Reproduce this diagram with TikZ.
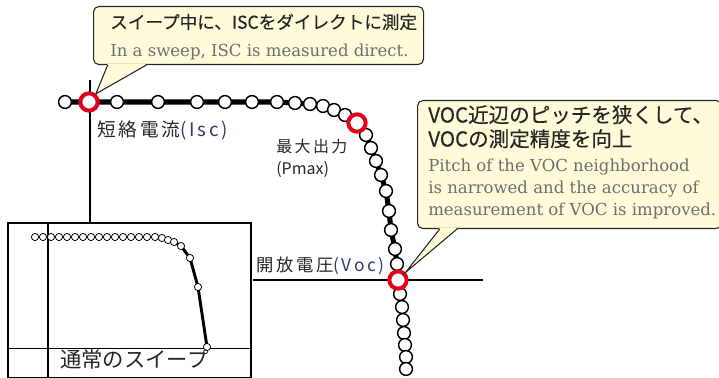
\documentclass[tikz,border=0pt]{standalone}
\usepackage{fontspec}
\setmainfont{DejaVu Serif}
\newfontfamily\jpfont{Noto Sans CJK JP}
\newfontfamily\jpnotefont[FakeBold=0.3]{Noto Sans CJK JP}
\newfontfamily\jplabelfont[LetterSpace=15]{Noto Sans CJK JP}
\usepackage{xcolor}
\usepackage{tikz}
\usetikzlibrary{positioning,calc}

\definecolor{notefill}{HTML}{FFFBDA}
\definecolor{keyred}{HTML}{E2001A}
\definecolor{labelblue}{HTML}{2B3C6C}
\definecolor{engray}{HTML}{6E6E6E}

\begin{document}
\begin{tikzpicture}[
    x=0.75pt, y=-0.75pt,
    axis/.style={line width=1.9pt},
    curve/.style={line width=3.8pt, line join=round},
    smallcurve/.style={line width=2.2pt, line join=round},
    dot/.style={circle, draw, fill=white, line width=1.1pt, minimum size=9.6pt, inner sep=0pt},
    keydot/.style={circle, draw=keyred, fill=white, line width=3pt, minimum size=13pt, inner sep=0pt},
    smalldot/.style={circle, draw, fill=white, line width=0.6pt, minimum size=5.4pt, inner sep=0pt},
    frame/.style={draw, line width=1.8pt, inner sep=0pt, anchor=north west},
    note/.style={draw=black!85, fill=notefill, rounded corners=4pt, line width=0.8pt, inner sep=0pt, anchor=north west},
    notejp/.style={font=\jpnotefont\fontsize{13.2}{15}\selectfont, text=black!85, inner sep=0pt, anchor=west},
    notejpbig/.style={font=\jpnotefont\fontsize{15.4}{18}\selectfont, text=black!85, inner sep=0pt, anchor=west, align=left},
    noteen/.style={font=\fontsize{12.4}{16.5}\selectfont, text=engray, inner sep=0pt, anchor=base west, align=left},
    label/.style={font=\jplabelfont\fontsize{13}{16.5}\selectfont, text=black!85, inner sep=0pt, anchor=west, align=left}
]
\useasboundingbox (0,0) rectangle (719,378);

% Axes
\node[frame, minimum width=182.25pt, minimum height=116.25pt] (inset) at (7,222) {};
\coordinate (ytop) at (90,80);
\coordinate (xleft) at (253,280);
\coordinate (xright) at (483,280);
\draw[axis] (ytop) -- (ytop |- inset.north);
\draw[axis] (xleft) -- (xright);

% Main sweep - points along the I-V curve
\foreach \px/\py [count=\i] in {65/102, 89/102, 117/102, 158/102, 197/102, 225/102, 252/102,
    277/102, 295/103, 310/104, 323/106, 334/110, 345/115, 357/123, 366/135, 371/148,
    376/161, 381/175, 386/191, 389/211, 391/230, 395/249, 397/264, 398/280, 400/294,
    402/307, 403/320, 404/333, 405/345, 406/357, 406/369}
    \coordinate (m\i) at (\px,\py);
\draw[curve] (m1) \foreach \i in {2,...,31} {-- (m\i)};
\foreach \i in {1,3,4,5,6,7,8,9,10,11,12,13,15,16,17,18,19,20,21,22,23,25,26,27,28,29,30,31}
    \node[dot] (d\i) at (m\i) {};

% Key points
\node[keydot] (isc) at (m2) {};
\node[keydot] (pmax) at (m14) {};
\node[keydot] (voc) at (m24) {};

% Inset - normal sweep
\draw[line width=1.1pt] ([xshift=30.75pt]inset.north west) -- ([xshift=30.75pt]inset.south west);
\draw[line width=1.1pt] ([yshift=23.25pt]inset.south west) -- ([yshift=23.25pt]inset.south east);
\foreach \px/\py [count=\i] in {35/237, 43/237, 51/237, 59/237, 67/237, 75/237, 83/237, 91/237,
    99/237, 107/237, 115/237, 123/237, 131/237, 139/237, 147/237, 155/237, 162/238,
    168/240, 174/242, 181/246, 190/258, 198/287, 207/347}
    \coordinate (s\i) at (\px,\py);
\draw[smallcurve] (s16) \foreach \i in {17,...,23} {-- (s\i)};
\foreach \i in {1,...,23}
    \node[smalldot] (n\i) at (s\i) {};
\node[font=\jpfont\fontsize{16}{18}\selectfont, text=black!85, inner sep=0pt, anchor=west] (normal) at (60,359) {通常のスイープ};

% Labels
\node[label, font=\jplabelfont\fontsize{14}{16.5}\selectfont] (isclabel) at (97,130) {短絡電流{\color{labelblue}(Isc)}};
\node[label, font=\jplabelfont\fontsize{12}{16.5}\selectfont, anchor=north west] (pmaxlabel) at (276,139) {最大出力\\{\jpfont(Pmax)}};
\node[label] (voclabel) at (256,266) {開放電圧{\color{labelblue}(Voc)}};

% Callout - ISC
\node[note, minimum width=247.5pt, minimum height=43.5pt] (note1) at (93,6) {};
\fill[notefill] ([xshift=11pt,yshift=0.8pt]note1.south west) -- (isc.50) -- ([xshift=40pt,yshift=0.8pt]note1.south west) -- cycle;
\draw[line width=0.8pt, black!85] ([xshift=11pt]note1.south west) -- (isc.50) -- ([xshift=40pt]note1.south west);
\node[notejp] (note1jp) at (110,22) {スイープ中に、ISCをダイレクトに測定};
\node[noteen] (note1en) at (110,57) {In a sweep, ISC is measured direct.};

% Callout - VOC
\node[note, minimum width=228pt, minimum height=96pt] (note2) at (417,100) {};
\fill[notefill] ([xshift=17pt,yshift=0.8pt]note2.south west) -- (voc.45) -- ([xshift=30pt,yshift=0.8pt]note2.south west) -- cycle;
\draw[line width=0.8pt, black!85] ([xshift=17pt]note2.south west) -- (voc.45) -- ([xshift=30pt]note2.south west);
\node[notejpbig, anchor=north west] (note2jp) at (428,105) {VOC近辺のピッチを狭くして、\\VOCの測定精度を向上};
\node[noteen, anchor=north west] (note2en) at (428,159) {Pitch of the VOC neighborhood\\is narrowed and the accuracy of\\measurement of VOC is improved.};

\end{tikzpicture}
\end{document}
